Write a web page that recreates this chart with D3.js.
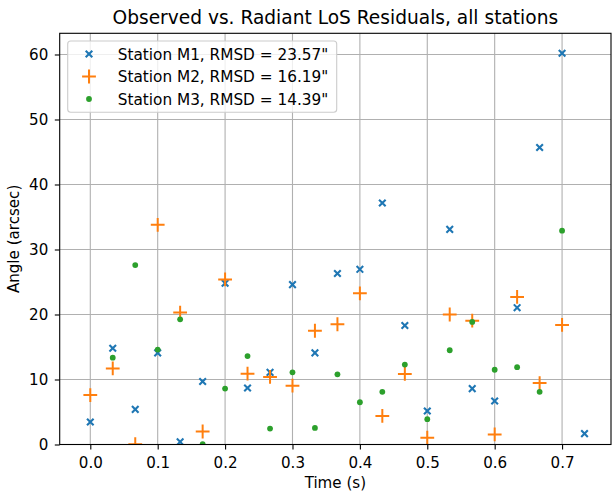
<!DOCTYPE html>
<html>
  <head>
    <meta charset="utf-8">
    <title>residuals</title>
    <script type="text/javascript" src="https://d3js.org/d3.v7.min.js"></script>
    <style>
      body { margin: 0; background: #fff; }
      text { font-family: "DejaVu Sans", sans-serif; fill: #000; }
    </style>
  </head>
  <body>
    <svg width="612" height="491"></svg>
    <script>
    // data (time in s, angle in arcsec)
    var timesM1 = [0.0, 0.0333, 0.0667, 0.1, 0.1333, 0.1667, 0.2, 0.2333, 0.2667, 0.3, 0.3333, 0.3667,
                   0.4, 0.4333, 0.4667, 0.5, 0.5333, 0.5667, 0.6, 0.6333, 0.6667, 0.7, 0.7333];
    var anglesM1 = [3.46, 14.8, 5.4, 14.1, 0.4, 9.7, 24.8, 8.7, 11.1, 24.6, 14.1, 26.3,
                    26.95, 37.15, 18.3, 5.15, 33.1, 8.6, 6.7, 21.05, 45.7, 60.2, 1.67];
    var timesM2 = [0.0, 0.0333, 0.0667, 0.1, 0.1333, 0.1667, 0.2, 0.2333, 0.2667, 0.3, 0.3333, 0.3667,
                   0.4, 0.4333, 0.4667, 0.5, 0.5333, 0.5667, 0.6, 0.6333, 0.6667, 0.7];
    var anglesM2 = [7.6, 11.7, 0.05, 33.8, 20.3, 2.0, 25.4, 10.9, 10.4, 9.05, 17.5, 18.5,
                    23.25, 4.4, 10.85, 1.05, 20.0, 19.05, 1.55, 22.7, 9.45, 18.4];
    var timesM3 = [0.0333, 0.0667, 0.1, 0.1333, 0.1667, 0.2, 0.2333, 0.2667, 0.3, 0.3333, 0.3667,
                   0.4, 0.4333, 0.4667, 0.5, 0.5333, 0.5667, 0.6, 0.6333, 0.6667, 0.7];
    var anglesM3 = [13.35, 27.6, 14.6, 19.25, 0.05, 8.6, 13.6, 2.45, 11.1, 2.55, 10.8,
                    6.5, 8.1, 12.3, 3.9, 14.5, 18.85, 11.5, 11.9, 8.1, 32.9];

    var seriesNames = ['Station M1, RMSD = 23.57"', 'Station M2, RMSD = 16.19"', 'Station M3, RMSD = 14.39"'];
    var seriesColors = ["#1f77b4", "#ff7f0e", "#2ca02c"];
    var xTicks = [0.0, 0.1, 0.2, 0.3, 0.4, 0.5, 0.6, 0.7];
    var yTicks = [0, 10, 20, 30, 40, 50, 60];

    var svg = d3.select("svg");
    var box = {left: 59.7, right: 611, top: 33.3, bottom: 444.5};
    var fs = 15.1;

    var x = d3.scaleLinear().domain([-0.0454, 0.7726]).range([box.left, box.right]);
    var y = d3.scaleLinear().domain([0, 63.26]).range([box.bottom, box.top]);

    // grid
    var grid = svg.append("g").attr("stroke", "#b0b0b0").attr("stroke-width", 1.1);
    grid.selectAll(".gx").data(xTicks).enter().append("line")
      .attr("x1", function(d){ return x(d); }).attr("x2", function(d){ return x(d); })
      .attr("y1", box.top).attr("y2", box.bottom);
    grid.selectAll(".gy").data(yTicks).enter().append("line")
      .attr("y1", function(d){ return y(d); }).attr("y2", function(d){ return y(d); })
      .attr("x1", box.left).attr("x2", box.right);

    svg.append("clipPath").attr("id", "clip").append("rect")
      .attr("x", box.left).attr("y", box.top)
      .attr("width", box.right - box.left).attr("height", box.bottom - box.top);

    var plot = svg.append("g").attr("clip-path", "url(#clip)");

    function pts(ts, vs) {
      return ts.map(function(t, i){ return {t: t, v: vs[i]}; });
    }

    // M1: x markers
    plot.selectAll(".m1").data(pts(timesM1, anglesM1)).enter().append("path")
      .attr("transform", function(d){ return "translate(" + x(d.t) + "," + y(d.v) + ")"; })
      .attr("d", "M-3.3,-3.3L3.3,3.3M-3.3,3.3L3.3,-3.3")
      .attr("stroke", seriesColors[0]).attr("stroke-width", 2.1).attr("fill", "none");

    // M2: plus markers
    plot.selectAll(".m2").data(pts(timesM2, anglesM2)).enter().append("path")
      .attr("transform", function(d){ return "translate(" + x(d.t) + "," + y(d.v) + ")"; })
      .attr("d", "M-6.9,0L6.9,0M0,-6.9L0,6.9")
      .attr("stroke", seriesColors[1]).attr("stroke-width", 2).attr("fill", "none");

    // M3: dots
    plot.selectAll(".m3").data(pts(timesM3, anglesM3)).enter().append("circle")
      .attr("cx", function(d){ return x(d.t); })
      .attr("cy", function(d){ return y(d.v); })
      .attr("r", 2.9)
      .attr("fill", seriesColors[2]);

    // axes
    var xAxis = svg.append("g")
      .attr("transform", "translate(0," + box.bottom + ")")
      .call(d3.axisBottom(x).tickValues(xTicks).tickFormat(d3.format(".1f")).tickSize(4.9).tickPadding(7.6).tickSizeOuter(0));
    var yAxis = svg.append("g")
      .attr("transform", "translate(" + box.left + ",0)")
      .call(d3.axisLeft(y).tickValues(yTicks).tickSize(4.9).tickPadding(6.5).tickSizeOuter(0));
    [xAxis, yAxis].forEach(function(a){
      a.select(".domain").remove();
      a.selectAll("line").attr("stroke", "#000").attr("stroke-width", 1.1);
      a.selectAll("text").attr("font-size", fs).attr("font-family", "DejaVu Sans").attr("fill", "#000");
    });
    yAxis.selectAll("text").attr("dy", "0.36em");

    // frame
    svg.append("rect")
      .attr("x", box.left).attr("y", box.top)
      .attr("width", box.right - box.left).attr("height", box.bottom - box.top)
      .attr("fill", "none").attr("stroke", "#000").attr("stroke-width", 1.1);

    // labels
    svg.append("text").attr("x", (box.left + box.right) / 2).attr("y", 24.3)
      .attr("text-anchor", "middle").attr("font-size", 18.6)
      .text("Observed vs. Radiant LoS Residuals, all stations");
    svg.append("text").attr("x", (box.left + box.right) / 2).attr("y", 488)
      .attr("text-anchor", "middle").attr("font-size", fs)
      .text("Time (s)");
    svg.append("text")
      .attr("transform", "translate(18.5," + (box.top + box.bottom) / 2 + ") rotate(-90)")
      .attr("text-anchor", "middle").attr("font-size", fs)
      .text("Angle (arcsec)");

    // legend
    var legend = svg.append("g");
    legend.append("rect")
      .attr("x", 67.7).attr("y", 41).attr("width", 269).attr("height", 71.3)
      .attr("rx", 3).attr("fill", "#fff").attr("fill-opacity", 0.8)
      .attr("stroke", "#cccccc").attr("stroke-width", 1.1);
    var rows = legend.selectAll(".row").data(seriesNames).enter().append("g")
      .attr("transform", function(d, i){ return "translate(89," + (54 + i * 22.5) + ")"; });
    rows.append("text").attr("x", 28.7).attr("y", 5.5).attr("font-size", 15.3)
      .text(function(d){ return d; });
    rows.filter(function(d, i){ return i === 0; }).append("path")
      .attr("d", "M-3.3,-3.3L3.3,3.3M-3.3,3.3L3.3,-3.3")
      .attr("stroke", seriesColors[0]).attr("stroke-width", 2.1);
    rows.filter(function(d, i){ return i === 1; }).append("path")
      .attr("d", "M-6.9,0L6.9,0M0,-6.9L0,6.9")
      .attr("stroke", seriesColors[1]).attr("stroke-width", 2);
    rows.filter(function(d, i){ return i === 2; }).append("circle")
      .attr("r", 2.9).attr("fill", seriesColors[2]);
    </script>
  </body>
</html>
